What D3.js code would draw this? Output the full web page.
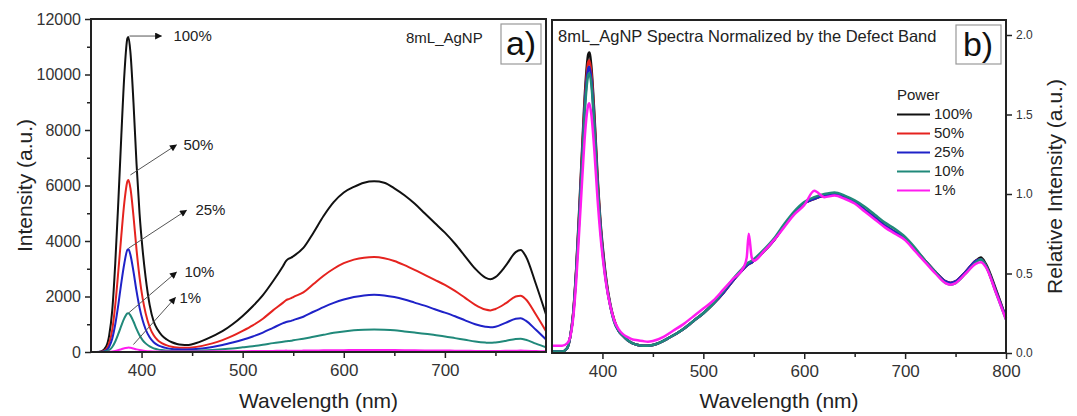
<!DOCTYPE html>
<html>
<head>
<meta charset="utf-8">
<script src="https://d3js.org/d3.v7.min.js"></script>
<style>
	body { margin: 0; background: #fff; }
	svg text { font-family: "Liberation Sans", Arial, sans-serif; }
</style>
</head>
<body>
<div id="svg-container"></div>
<script>

// DATA
const powers = ['100%', '50%', '25%', '10%', '1%'];

const wavelength = [
	350,355,360,365,368,371,374,377,380,383,
	386,387,389,392,395,398,401,404,408,412,
	416,420,425,430,435,440,445,450,460,470,
	480,490,500,510,520,530,540,543,545,548,
	550,560,570,580,590,600,610,620,630,640,
	650,660,670,680,690,700,710,720,730,740,
	745,750,760,770,775,780,790,800
];

// panel a) raw intensity (a.u.)
const int100 = [
	0,0,20,200,600,1500,3200,5400,7800,10000,
	11300,11350,10800,9000,6800,5000,3700,2700,1700,1100,
	800,600,450,350,290,260,250,280,400,560,
	750,1000,1300,1650,2050,2550,3100,3280,3350,3400,
	3450,3750,4300,4900,5400,5750,5950,6100,6150,6100,
	5900,5650,5350,5000,4650,4300,3900,3450,3000,2680,
	2620,2700,3100,3600,3680,3450,2450,1350
];
const int50 = [
	0,0,10,100,320,800,1700,2900,4200,5400,
	6150,6200,5900,4900,3700,2700,1950,1400,900,600,
	420,320,240,190,160,150,150,160,220,310,
	430,580,760,960,1200,1500,1780,1870,1900,1940,
	1980,2150,2450,2750,3000,3200,3330,3400,3420,3380,
	3280,3130,2960,2780,2600,2420,2200,1950,1700,1530,
	1500,1550,1750,2000,2030,1900,1350,750
];
const int25 = [
	0,0,5,60,190,480,1000,1700,2500,3200,
	3680,3700,3500,2900,2200,1600,1150,820,530,350,
	250,190,140,110,95,90,90,95,130,180,
	250,340,440,560,700,870,1040,1080,1100,1120,
	1150,1270,1450,1620,1770,1890,1980,2040,2060,2040,
	1980,1890,1780,1670,1540,1420,1290,1140,1000,910,
	890,910,1050,1200,1220,1130,800,450
];
const int10 = [
	0,0,2,25,75,180,380,650,950,1220,
	1390,1400,1320,1100,830,600,430,310,200,130,
	95,70,55,45,40,38,38,40,55,75,
	100,130,170,210,260,320,370,385,395,405,
	420,480,550,620,690,740,780,800,810,800,
	780,740,700,660,610,560,500,440,380,340,
	330,345,400,470,480,440,300,170
];
const int1 = [
	0,0,0,3,8,20,40,70,100,135,
	155,160,150,125,95,70,50,38,28,22,
	20,18,18,18,18,18,18,20,22,24,
	26,28,30,33,36,40,44,50,46,46,
	47,50,55,60,64,67,70,72,74,72,
	70,66,62,58,55,52,48,44,40,38,
	37,38,42,48,50,46,35,25
];

// panel b) normalized by the defect band
const norm100 = [
	0.01,0.01,0.01,0.03,0.1,0.25,0.53,0.9,1.3,1.67,
	1.88,1.89,1.8,1.5,1.13,0.83,0.62,0.45,0.3,0.2,
	0.14,0.11,0.08,0.06,0.05,0.045,0.045,0.05,0.075,0.11,
	0.15,0.2,0.25,0.31,0.38,0.46,0.53,0.55,0.56,0.57,
	0.58,0.64,0.71,0.8,0.88,0.94,0.97,0.99,1.0,0.98,
	0.95,0.9,0.85,0.8,0.76,0.72,0.65,0.58,0.51,0.45,
	0.44,0.45,0.51,0.58,0.6,0.56,0.4,0.22
];
const norm50 = [
	0.01,0.01,0.01,0.03,0.1,0.25,0.52,0.88,1.27,1.63,
	1.83,1.84,1.76,1.47,1.1,0.81,0.6,0.44,0.29,0.2,
	0.14,0.11,0.08,0.06,0.05,0.045,0.045,0.05,0.075,0.11,
	0.15,0.2,0.25,0.31,0.38,0.46,0.53,0.55,0.56,0.57,
	0.58,0.64,0.71,0.8,0.88,0.94,0.97,0.99,1.0,0.98,
	0.95,0.9,0.85,0.8,0.76,0.72,0.65,0.58,0.51,0.45,
	0.44,0.45,0.51,0.58,0.59,0.55,0.39,0.22
];
const norm25 = [
	0.01,0.01,0.01,0.03,0.1,0.24,0.51,0.86,1.24,1.6,
	1.79,1.8,1.72,1.44,1.08,0.8,0.59,0.43,0.29,0.19,
	0.14,0.11,0.08,0.06,0.05,0.045,0.045,0.05,0.075,0.11,
	0.15,0.2,0.25,0.31,0.38,0.46,0.53,0.55,0.56,0.57,
	0.58,0.64,0.71,0.8,0.88,0.94,0.97,0.99,1.0,0.98,
	0.95,0.9,0.85,0.8,0.76,0.72,0.65,0.58,0.51,0.45,
	0.44,0.45,0.51,0.58,0.59,0.55,0.39,0.22
];
const norm10 = [
	0.01,0.01,0.01,0.03,0.1,0.24,0.5,0.84,1.22,1.57,
	1.75,1.76,1.69,1.42,1.07,0.79,0.58,0.43,0.29,0.19,
	0.14,0.11,0.08,0.06,0.05,0.045,0.045,0.05,0.075,0.11,
	0.15,0.2,0.25,0.31,0.39,0.47,0.54,0.56,0.57,0.58,
	0.59,0.65,0.72,0.81,0.89,0.95,0.98,1.0,1.01,0.99,
	0.96,0.92,0.87,0.82,0.78,0.73,0.66,0.58,0.51,0.44,
	0.43,0.44,0.5,0.57,0.59,0.55,0.38,0.21
];
const norm1 = [
	0.045,0.045,0.045,0.06,0.1,0.22,0.45,0.77,1.1,1.4,
	1.56,1.57,1.5,1.27,0.98,0.74,0.56,0.42,0.29,0.2,
	0.15,0.12,0.1,0.085,0.08,0.075,0.07,0.075,0.1,0.14,
	0.18,0.23,0.28,0.33,0.4,0.47,0.54,0.6,0.75,0.6,
	0.58,0.64,0.71,0.79,0.87,0.93,1.02,0.98,0.99,0.97,
	0.94,0.89,0.84,0.79,0.75,0.71,0.64,0.57,0.5,0.44,
	0.43,0.44,0.5,0.56,0.57,0.54,0.38,0.21
];

// tick values
const xTicks = [400, 500, 600, 700, 800];
const xMinor = [450, 550, 650, 750];
const yTicksA = [0, 2000, 4000, 6000, 8000, 10000, 12000];
const yMinorA = [1000, 3000, 5000, 7000, 9000, 11000];
const yTicksB = [0, 0.5, 1.0, 1.5, 2.0];

const colors = ['#111111', '#e5231f', '#1f22c8', '#20897a', '#ff1cf0'];




// build the chart
function visualizeData() {
	const w = 1077;
	const h = 416;

	const svg = d3.select('#svg-container').append('svg')
		.attr('width', w)
		.attr('height', h);

	const seriesA = [int100, int50, int25, int10, int1];
	const seriesB = [norm100, norm50, norm25, norm10, norm1];

	// scales
	const xA = d3.scaleLinear().domain([350, 800]).range([91, 546]);
	const yA = d3.scaleLinear().domain([0, 12000]).range([352, 19]);
	const xB = d3.scaleLinear().domain([350, 800]).range([552, 1006]);
	const yB = d3.scaleLinear().domain([0, 333 / 159]).range([353, 20]);

	const styleAxis = (g, fs) => {
		g.select('.domain').remove();
		g.selectAll('line').attr('stroke', '#222').attr('stroke-width', 1.5);
		g.selectAll('text').attr('fill', '#333').style('font-size', fs + 'px')
			.style('font-family', '"Liberation Sans", Arial, sans-serif');
	};

	// ---------- panel a ----------
	svg.append('g')
		.attr('transform', `translate(0, ${yA(0)})`)
		.call(d3.axisBottom(xA).tickValues(xTicks.filter(d => d < 800)).tickSize(6).tickPadding(6).tickFormat(d3.format('d')))
		.call(g => styleAxis(g, 17));
	svg.append('g')
		.attr('transform', `translate(0, ${yA(0)})`)
		.call(d3.axisBottom(xA).tickValues(xMinor).tickSize(4).tickFormat(''))
		.call(g => styleAxis(g, 17));
	svg.append('g')
		.attr('transform', `translate(${xA(350)}, 0)`)
		.call(d3.axisLeft(yA).tickValues(yTicksA).tickSize(6).tickPadding(4).tickFormat(d3.format('d')))
		.call(g => styleAxis(g, 16));
	svg.append('g')
		.attr('transform', `translate(${xA(350)}, 0)`)
		.call(d3.axisLeft(yA).tickValues(yMinorA).tickSize(4).tickFormat(''))
		.call(g => styleAxis(g, 16));

	const lineA = d3.line()
		.x((d, i) => xA(wavelength[i]))
		.y(d => yA(d))
		.curve(d3.curveMonotoneX);

	svg.append('g').selectAll('path')
		.data(seriesA)
		.enter()
		.append('path')
		.attr('d', lineA)
		.attr('fill', 'none')
		.attr('stroke', (d, i) => colors[i])
		.attr('stroke-width', 2)
		.attr('stroke-linejoin', 'round');

	svg.append('rect')
		.attr('x', xA(350)).attr('y', yA(12000))
		.attr('width', xA(800) - xA(350)).attr('height', yA(0) - yA(12000))
		.attr('fill', 'none').attr('stroke', '#222').attr('stroke-width', 2);

	// arrows to the peaks
	svg.append('defs').append('marker')
		.attr('id', 'head')
		.attr('viewBox', '0 0 10 10')
		.attr('refX', 9).attr('refY', 5)
		.attr('markerWidth', 9).attr('markerHeight', 7)
		.attr('markerUnits', 'userSpaceOnUse')
		.attr('orient', 'auto')
		.append('path').attr('d', 'M0,0 L10,5 L0,10 Z').attr('fill', '#111');

	// [start dx, start dy, end dx, end dy] relative to each peak, label offset
	const arrows = [
		[1, -1, 33, -1, 12],
		[2, -5, 48, -35, 7],
		[0, -1, 58, -39, 9],
		[0, 0, 48, -41, 8],
		[5, -3, 47, -50, 4]
	];
	const peakIndex = wavelength.indexOf(387);
	arrows.forEach((a, i) => {
		const px = xA(387);
		const py = yA(seriesA[i][peakIndex]);
		svg.append('line')
			.attr('x1', px + a[0]).attr('y1', py + a[1])
			.attr('x2', px + a[2]).attr('y2', py + a[3])
			.attr('stroke', '#555').attr('stroke-width', 1)
			.attr('marker-end', 'url(#head)');
		svg.append('text')
			.attr('x', px + a[2] + a[4]).attr('y', py + a[3] + 1)
			.attr('dominant-baseline', 'middle')
			.attr('fill', '#222').style('font-size', '15px')
			.text(powers[i]);
	});

	svg.append('text')
		.attr('x', 406).attr('y', 43)
		.attr('fill', '#222').style('font-size', '15px')
		.text('8mL_AgNP');

	svg.append('rect')
		.attr('x', 501).attr('y', 24).attr('width', 40).attr('height', 40)
		.attr('fill', '#fff').attr('stroke', '#999').attr('stroke-width', 1.2);
	svg.append('text')
		.attr('x', 521).attr('y', 55).attr('text-anchor', 'middle')
		.attr('fill', '#111').style('font-size', '34px')
		.text('a)');

	svg.append('text')
		.attr('transform', `translate(32, ${(yA(0) + yA(12000)) / 2}) rotate(-90)`)
		.attr('text-anchor', 'middle')
		.attr('fill', '#222').style('font-size', '21px')
		.text('Intensity (a.u.)');
	svg.append('text')
		.attr('x', (xA(350) + xA(800)) / 2).attr('y', 408)
		.attr('text-anchor', 'middle')
		.attr('fill', '#222').style('font-size', '21px')
		.text('Wavelength (nm)');

	// ---------- panel b ----------
	svg.append('g')
		.attr('transform', `translate(0, ${yB(0)})`)
		.call(d3.axisBottom(xB).tickValues(xTicks).tickSize(6).tickPadding(6).tickFormat(d3.format('d')))
		.call(g => styleAxis(g, 17));
	svg.append('g')
		.attr('transform', `translate(0, ${yB(0)})`)
		.call(d3.axisBottom(xB).tickValues(xMinor).tickSize(4).tickFormat(''))
		.call(g => styleAxis(g, 17));
	svg.append('g')
		.attr('transform', `translate(${xB(800)}, 0)`)
		.call(d3.axisRight(yB).tickValues(yTicksB).tickSize(6).tickPadding(4).tickFormat(d3.format('.1f')))
		.call(g => styleAxis(g, 12));

	const lineB = d3.line()
		.x((d, i) => xB(wavelength[i]))
		.y(d => yB(d))
		.curve(d3.curveMonotoneX);

	svg.append('g').selectAll('path')
		.data(seriesB)
		.enter()
		.append('path')
		.attr('d', lineB)
		.attr('fill', 'none')
		.attr('stroke', (d, i) => colors[i])
		.attr('stroke-width', 2.5)
		.attr('stroke-linejoin', 'round');

	svg.append('rect')
		.attr('x', xB(350)).attr('y', yB.range()[1])
		.attr('width', xB(800) - xB(350)).attr('height', yB(0) - yB.range()[1])
		.attr('fill', 'none').attr('stroke', '#222').attr('stroke-width', 2);

	svg.append('text')
		.attr('x', 558).attr('y', 42)
		.attr('fill', '#222').style('font-size', '16.5px')
		.text('8mL_AgNP Spectra Normalized by the Defect Band');

	svg.append('rect')
		.attr('x', 956).attr('y', 25).attr('width', 45).attr('height', 39)
		.attr('fill', '#fff').attr('stroke', '#999').attr('stroke-width', 1.2);
	svg.append('text')
		.attr('x', 978).attr('y', 56).attr('text-anchor', 'middle')
		.attr('fill', '#111').style('font-size', '34px')
		.text('b)');

	// legend
	const legend = svg.append('g').attr('transform', 'translate(897, 0)');
	legend.append('text')
		.attr('x', 0).attr('y', 100)
		.attr('fill', '#222').style('font-size', '15px')
		.text('Power');
	powers.forEach((p, i) => {
		const y = 114.5 + i * 19;
		legend.append('line')
			.attr('x1', 0).attr('x2', 33).attr('y1', y).attr('y2', y)
			.attr('stroke', colors[i]).attr('stroke-width', 2);
		legend.append('text')
			.attr('x', 37).attr('y', y + 1)
			.attr('dominant-baseline', 'middle')
			.attr('fill', '#222').style('font-size', '15px')
			.text(p);
	});

	svg.append('text')
		.attr('transform', `translate(1062, ${(yB(0) + yB.range()[1]) / 2}) rotate(-90)`)
		.attr('text-anchor', 'middle')
		.attr('fill', '#222').style('font-size', '21px')
		.text('Relative Intensity (a.u.)');
	svg.append('text')
		.attr('x', (xB(350) + xB(800)) / 2).attr('y', 408)
		.attr('text-anchor', 'middle')
		.attr('fill', '#222').style('font-size', '21px')
		.text('Wavelength (nm)');
}




document.addEventListener('DOMContentLoaded', () => {
	visualizeData();
});
</script>
</body>
</html>
